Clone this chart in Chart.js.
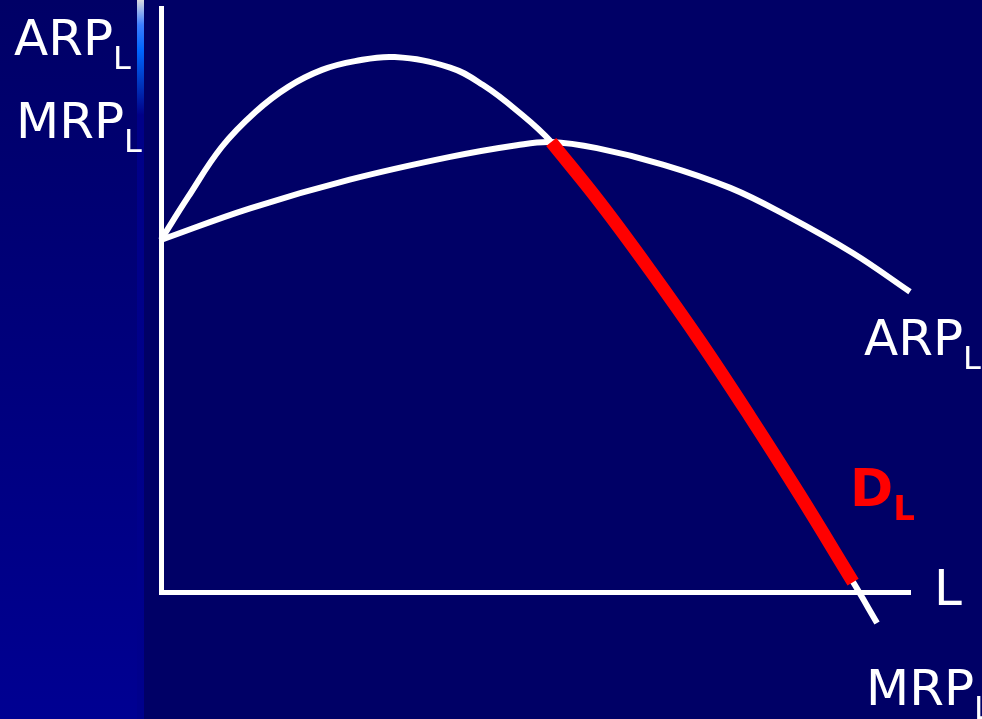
<!DOCTYPE html>
<html lang="en">
<head>
  <meta charset="UTF-8">
  <title>ARP and MRP of labour</title>
  <script src="https://cdn.jsdelivr.net/npm/chart.js"></script>
  <style>
    :root {
      --bg-navy: #000066;
    }

    html, body {
      margin: 0;
      padding: 0;
    }

    body {
      width: 982px;
      height: 719px;
      overflow: hidden;
      position: relative;
      background: var(--bg-navy);
    }

    #side {
      position: absolute;
      left: 0;
      top: 0;
      width: 137px;
      height: 719px;
      background: linear-gradient(to bottom, #000066, #000092);
    }

    #stripe {
      position: absolute;
      left: 137px;
      top: 0;
      width: 7px;
      height: 719px;
      background: linear-gradient(to bottom, #d9d9e0 0px, #3d7dff 25px, #0066ff 50px, #0033bb 85px, #000088 115px, #00008c 719px);
    }

    #wrap {
      position: absolute;
      left: 0;
      top: 0;
      width: 982px;
      height: 719px;
    }
  </style>
</head>
<body>

  <div id="side"></div>
  <div id="stripe"></div>
  <div id="wrap">
    <canvas id="labourChart"></canvas>
  </div>

  <script>
    // quantity of labour (L) and revenue product values
    const arpLabour = [0, 11.9, 25.2, 38.6, 47.5, 52.1, 58.2, 67.0, 76.0, 83.6, 92.4, 100];
    const arpValues = [60.3, 65.7, 70.6, 74.5, 76.5, 77.05, 76.0, 73.2, 69.2, 64.4, 58.0, 51.4];

    const mrpLabour = [0, 3.6, 8.1, 12.6, 17.0, 21.5, 25.9, 31.2, 38.6, 43.0, 47.5, 52.1, 58.6, 65.3, 72.0, 78.6, 85.3, 92.4, 95.6];
    const mrpValues = [60.3, 67.6, 76.2, 82.2, 86.5, 89.4, 90.9, 91.6, 89.8, 86.8, 82.45, 77.05, 66.7, 55.1, 42.9, 30.1, 16.6, 1.7, -5.3];

    // demand for labour = falling MRP below the ARP maximum
    const demandLabour = [52.1, 58.6, 65.3, 72.0, 78.6, 85.3, 92.4];
    const demandValues = [77.05, 66.7, 55.1, 42.9, 30.1, 16.6, 1.7];

    // text labels: main text, subscript, position, colour
    const labels = [
      { text: 'ARP', sub: 'L', x: 14, y: 55, color: '#ffffff', bold: false },
      { text: 'MRP', sub: 'L', x: 16, y: 138, color: '#ffffff', bold: false },
      { text: 'ARP', sub: 'L', x: 864, y: 355, color: '#ffffff', bold: false },
      { text: 'D', sub: 'L', x: 850, y: 506, color: '#ff0000', bold: true },
      { text: 'L', sub: '', x: 934, y: 605, color: '#ffffff', bold: false },
      { text: 'MRP', sub: 'L', x: 866, y: 705, color: '#ffffff', bold: false }
    ];

    function toPoints(xs, ys) {
      return xs.map((x, i) => ({ x: x, y: ys[i] }));
    }

    const labelPlugin = {
      id: 'subLabels',
      afterDraw(chart) {
        const ctx = chart.ctx;
        ctx.save();
        ctx.textBaseline = 'alphabetic';
        ctx.textAlign = 'left';
        labels.forEach(l => {
          const weight = l.bold ? 'bold ' : '';
          ctx.fillStyle = l.color;
          ctx.font = weight + (l.bold ? '52px' : '50px') + ' "DejaVu Sans"';
          ctx.fillText(l.text, l.x, l.y);
          if (l.sub) {
            const w = ctx.measureText(l.text).width;
            ctx.font = weight + (l.bold ? '34px' : '32px') + ' "DejaVu Sans"';
            ctx.fillText(l.sub, l.x + w, l.y + 14);
          }
        });
        ctx.restore();
      }
    };

    const ctx = document.getElementById('labourChart').getContext('2d');

    const lineStyle = {
      showLine: true,
      borderCapStyle: 'butt',
      borderJoinStyle: 'round',
      pointRadius: 0,
      tension: 0.4,
      clip: false
    };

    const chart = new Chart(ctx, {
      type: 'scatter',
      data: {
        datasets: [
          Object.assign({
            label: 'D_L',
            data: toPoints(demandLabour, demandValues),
            borderColor: '#ff0000',
            borderWidth: 13
          }, lineStyle),
          Object.assign({
            label: 'MRP_L',
            data: toPoints(mrpLabour, mrpValues),
            borderColor: '#ffffff',
            borderWidth: 6
          }, lineStyle),
          Object.assign({
            label: 'ARP_L',
            data: toPoints(arpLabour, arpValues),
            borderColor: '#ffffff',
            borderWidth: 6
          }, lineStyle)
        ]
      },
      options: {
        responsive: true,
        maintainAspectRatio: false,
        animation: false,
        devicePixelRatio: 1,
        layout: {
          padding: { left: 161, top: 8, right: 72, bottom: 127 }
        },
        scales: {
          x: {
            type: 'linear',
            min: 0,
            max: 100,
            grid: { display: false, drawTicks: false },
            ticks: { display: false },
            border: { display: true, color: '#ffffff', width: 5 }
          },
          y: {
            type: 'linear',
            min: 0,
            max: 100,
            grid: { display: false, drawTicks: false },
            ticks: { display: false },
            border: { display: true, color: '#ffffff', width: 5 }
          }
        },
        plugins: {
          legend: { display: false },
          tooltip: { enabled: false }
        }
      },
      plugins: [labelPlugin]
    });
  </script>
</body>
</html>
